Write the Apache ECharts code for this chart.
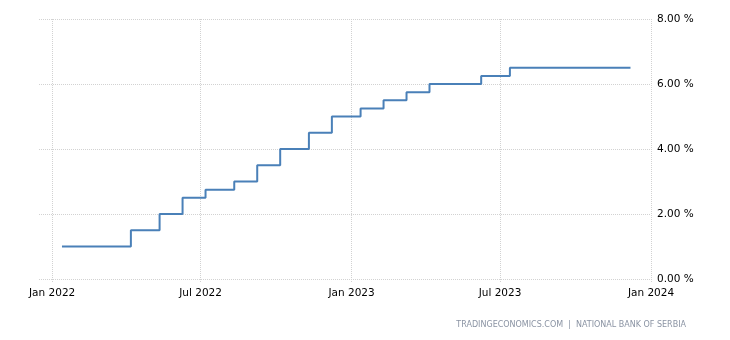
<!DOCTYPE html>
<html>
<head>
<meta charset="utf-8">
<script src="https://cdn.jsdelivr.net/npm/echarts@6/dist/echarts.min.js"></script>
<style>
  html, body { margin: 0; padding: 0; background: #fff; }
  #chart { width: 730px; height: 340px; }
</style>
</head>
<body>
<div id="chart"></div>
<script>
// Policy rate decisions (monetary policy meeting dates) and the rate set at each
const dates = [
  '2022-01-13', '2022-02-10', '2022-03-10', '2022-04-07', '2022-05-12', '2022-06-09',
  '2022-07-07', '2022-08-11', '2022-09-08', '2022-10-06', '2022-11-10', '2022-12-08',
  '2023-01-12', '2023-02-09', '2023-03-09', '2023-04-06', '2023-05-11', '2023-06-08',
  '2023-07-13', '2023-08-10', '2023-09-07', '2023-10-12', '2023-11-09', '2023-12-07'
];
const rates = [
  1.00, 1.00, 1.00, 1.50, 2.00, 2.50,
  2.75, 3.00, 3.50, 4.00, 4.50, 5.00,
  5.25, 5.50, 5.75, 6.00, 6.00, 6.25,
  6.50, 6.50, 6.50, 6.50, 6.50, 6.50
];
const xTickDates = ['2022-01-01', '2022-07-01', '2023-01-01', '2023-07-01', '2024-01-01'];
const yTicks = [0, 2, 4, 6, 8];
const sourceText = 'TRADINGECONOMICS.COM  |  NATIONAL BANK OF SERBIA';

const monthNames = ['Jan', 'Feb', 'Mar', 'Apr', 'May', 'Jun', 'Jul', 'Aug', 'Sep', 'Oct', 'Nov', 'Dec'];
// Dates are placed on a plain numeric axis as UTC milliseconds
const toTime = s => {
  const p = s.split('-').map(Number);
  return Date.UTC(p[0], p[1] - 1, p[2]);
};
const xTicks = xTickDates.map(toTime);
const seriesData = dates.map((d, i) => [toTime(d), rates[i]]);

const chart = echarts.init(document.getElementById('chart'), null, { renderer: 'canvas' });
const font = 'DejaVu Sans';
const gridStyle = { color: '#d2d2d2', type: [1, 1], width: 1 };
chart.setOption({
  animation: false,
  backgroundColor: '#ffffff',
  grid: { left: 39, right: 79, top: 19, bottom: 61, containLabel: false },
  xAxis: {
    type: 'value',
    min: toTime('2021-12-16'),
    max: toTime('2024-01-01'),
    axisLine: { show: false },
    axisTick: { show: true, length: 4, customValues: xTicks, lineStyle: gridStyle },
    axisLabel: {
      customValues: xTicks,
      color: '#000', fontFamily: font, fontSize: 10.5, margin: 9,
      formatter: v => { const d = new Date(v); return monthNames[d.getUTCMonth()] + ' ' + d.getUTCFullYear(); }
    },
    splitLine: { show: true, lineStyle: gridStyle }
  },
  yAxis: {
    type: 'value',
    position: 'right',
    min: yTicks[0],
    max: yTicks[yTicks.length - 1],
    interval: 2,
    axisLine: { show: false },
    axisTick: { show: false },
    axisLabel: {
      color: '#000', fontFamily: font, fontSize: 10.5, margin: 6, padding: [2, 0, 0, 0],
      formatter: v => v.toFixed(2) + ' %'
    },
    splitLine: { show: true, lineStyle: gridStyle }
  },
  series: [{
    type: 'line',
    step: 'end',
    data: seriesData,
    showSymbol: false,
    lineStyle: { color: '#4a80b8', width: 2 }
  }],
  graphic: [{
    type: 'text',
    right: 44,
    top: 321,
    style: {
      text: sourceText,
      fill: '#8a93a3',
      font: '8px "DejaVu Sans"'
    }
  }]
});
</script>
</body>
</html>
